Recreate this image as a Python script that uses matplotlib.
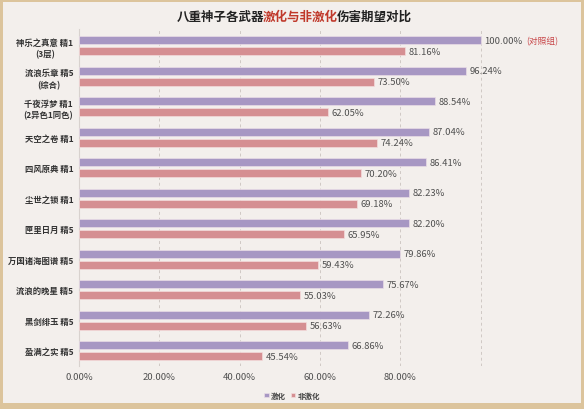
import matplotlib
matplotlib.use("Agg")
import matplotlib.pyplot as plt
from matplotlib.patches import Rectangle
import numpy as np

plt.rcParams['font.family'] = ['Noto Sans CJK SC', 'DejaVu Sans']

categories = ["神乐之真意 精1\n(3层)", "流浪乐章 精5\n(综合)", "千夜浮梦 精1\n(2异色1同色)",
              "天空之卷 精1", "四风原典 精1", "尘世之锁 精1", "匣里日月 精5",
              "万国诸海图谱 精5", "流浪的晚星 精5", "黑剑绯玉 精5", "盈满之实 精5"]
jihua = [100.00, 96.24, 88.54, 87.04, 86.41, 82.23, 82.20, 79.86, 75.67, 72.26, 66.86]
fei_jihua = [81.16, 73.50, 62.05, 74.24, 70.20, 69.18, 65.95, 59.43, 55.03, 56.63, 45.54]
xticks = [0, 20, 40, 60, 80, 100, 120]
xtick_labels = ["0.00%", "20.00%", "40.00%", "60.00%", "80.00%", "", ""]

W, H = 584, 410
fig = plt.figure(figsize=(W/100, H/100), dpi=100)
fig.patch.set_facecolor('#dcc49c')
fig.patches.append(Rectangle((3/W, 6/H), (W-6)/W, (H-9)/H, transform=fig.transFigure,
                             facecolor='#f3efec', edgecolor='none', zorder=-5))

left, right, top, bottom = 79, 561, 30, 367
ax = fig.add_axes([left/W, 1-bottom/H, (right-left)/W, (bottom-top)/H])
ax.set_zorder(1)
ax.set_facecolor('none')

purple = '#a797c3'
pink = '#d58f92'
y = np.arange(len(categories))
off = 0.18
h = 0.25
ax.barh(y - off, jihua, height=h, color=purple, edgecolor='#e9dde6', linewidth=0.5, label='激化', zorder=3)
ax.barh(y + off, fei_jihua, height=h, color=pink, edgecolor='#f4dcdc', linewidth=0.5, label='非激化', zorder=3)

ax.set_xlim(0, 120)
ax.set_ylim(10.5, -0.55)

lab_fs = 6.8
for i, v in enumerate(jihua):
    t = ax.text(v + 0.9, i - off, f"{v:.2f}%", va='center', ha='left', fontsize=lab_fs, color='#505050')
    if i == 0:
        fig.canvas.draw()
        bb = t.get_window_extent()
        xd = ax.transData.inverted().transform((bb.x1, 0))[0]
        ax.text(xd + 1.0, i - off, "(对照组)", va='center', ha='left', fontsize=6.3, color='#c8474a')
for i, v in enumerate(fei_jihua):
    ax.text(v + 0.9, i + off, f"{v:.2f}%", va='center', ha='left', fontsize=lab_fs, color='#505050')

ax.set_xticks(xticks)
ax.set_xticklabels(xtick_labels, fontsize=lab_fs, color='#505050')
ax.set_yticks(y)
ax.set_yticklabels(categories, fontsize=6, fontweight='bold', color='#333333',
                   multialignment='center', linespacing=1.35)
ax.tick_params(axis='y', length=0, pad=4)
ax.tick_params(axis='x', length=0, pad=4.5)
ax.grid(axis='x', linestyle=(0, (3, 3)), color='#cfc8c4', linewidth=0.7, zorder=0)
for s in ['top', 'right', 'bottom']:
    ax.spines[s].set_visible(False)
ax.spines['left'].set_color('#d8d2ce')

leg = fig.legend(loc='center', bbox_to_anchor=(292/W, 1-396/H), ncol=2, frameon=False,
                 fontsize=5.4, handlelength=0.6, handleheight=0.6, handletextpad=0.3, columnspacing=0.6)
for t in leg.get_texts():
    t.set_color('#444444')
    t.set_fontweight('bold')

# title in three colored pieces
parts = [("八重神子各武器", '#222222'), ("激化与非激化", '#c0392b'), ("伤害期望对比", '#222222')]
fig.canvas.draw()
r = fig.canvas.get_renderer()
texts = []
for s, c in parts:
    texts.append(fig.text(0, 1-17/H, s, fontsize=9, fontweight='bold', color=c, va='center', ha='left'))
widths = [t.get_window_extent(r).width for t in texts]
total = sum(widths)
x0 = 295 - total/2
for t, w in zip(texts, widths):
    t.set_x(x0/W)
    x0 += w - 1.0

fig.savefig('out.png', dpi=100, facecolor=fig.get_facecolor())
